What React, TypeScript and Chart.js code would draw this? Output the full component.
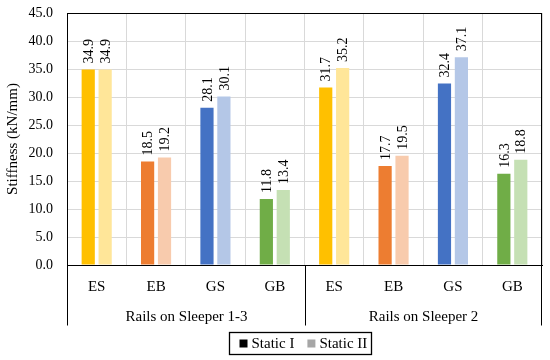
import React, { useEffect, useRef } from 'react';
import { Chart, registerables } from 'chart.js';

Chart.register(...registerables);

const categories = ['ES', 'EB', 'GS', 'GB', 'ES', 'EB', 'GS', 'GB'];
const groups = ['Rails on Sleeper 1-3', 'Rails on Sleeper 2'];
const groupSizes = [4, 4];
const staticI = [34.9, 18.5, 28.1, 11.8, 31.7, 17.7, 32.4, 16.3];
const staticII = [34.9, 19.2, 30.1, 13.4, 35.2, 19.5, 37.1, 18.8];
const seriesNames = ['Static I', 'Static II'];
const darkColors = ['#FFC000', '#ED7D31', '#4472C4', '#70AD47', '#FFC000', '#ED7D31', '#4472C4', '#70AD47'];
const lightColors = ['#FFE699', '#F8CBAD', '#B4C7E7', '#C5E0B4', '#FFE699', '#F8CBAD', '#B4C7E7', '#C5E0B4'];
const legendColors = ['#000000', '#A6A6A6'];
const yMin = 0;
const yMax = 45;
const yStep = 5;

const FONT = "'Liberation Serif', 'Times New Roman', serif";

const frameAndGroupsPlugin = {
  id: 'frameAndGroups',
  afterDatasetsDraw(chart: any) {
    const { ctx } = chart;
    ctx.save();
    ctx.font = `14px ${FONT}`;
    ctx.fillStyle = '#000';
    ctx.textAlign = 'left';
    ctx.textBaseline = 'middle';
    chart.data.datasets.forEach((ds: any, di: number) => {
      const meta = chart.getDatasetMeta(di);
      meta.data.forEach((el: any, i: number) => {
        const v = ds.data[i];
        ctx.save();
        ctx.translate(el.x, el.y - 6);
        ctx.rotate(-Math.PI / 2);
        ctx.fillText(Number(v).toFixed(1), 0, 1);
        ctx.restore();
      });
    });
    ctx.restore();
  },
  afterDraw(chart: any) {
    const { ctx, chartArea } = chart;
    const x = chart.scales.x;
    ctx.save();
    ctx.strokeStyle = '#000';
    ctx.lineWidth = 1;
    const L = Math.round(chartArea.left) + 0.5;
    const R = Math.round(chartArea.right) - 0.5;
    const T = Math.round(chartArea.top) + 0.5;
    const B = Math.round(chartArea.bottom) + 0.5;
    ctx.strokeRect(L, T, R - L, B - T);
    const lineBottom = B + 60;
    const bounds: number[] = [L];
    let idx = 0;
    groupSizes.forEach((n, gi) => {
      idx += n;
      if (gi < groupSizes.length - 1) {
        const b = (x.getPixelForValue(idx - 1) + x.getPixelForValue(idx)) / 2;
        bounds.push(Math.round(b) + 0.5);
      }
    });
    bounds.push(R);
    ctx.beginPath();
    bounds.forEach((bx) => {
      ctx.moveTo(bx, B);
      ctx.lineTo(bx, lineBottom);
    });
    ctx.stroke();
    ctx.font = `15px ${FONT}`;
    ctx.fillStyle = '#000';
    ctx.textAlign = 'center';
    ctx.textBaseline = 'middle';
    groups.forEach((g, gi) => {
      const cx = (bounds[gi] + bounds[gi + 1]) / 2;
      ctx.fillText(g, cx, B + 51.5);
    });

    // legend
    ctx.font = `15px ${FONT}`;
    const widths = seriesNames.map((n) => ctx.measureText(n).width);
    const sq = 8, gapT = 4, gapI = 13, padL = 10, padR = 4;
    const total = padL + sq + gapT + widths[0] + gapI + sq + gapT + widths[1] + padR;
    const cx = (chartArea.left + chartArea.right) / 2 - 5;
    const boxL = Math.round(cx - total / 2) + 0.5;
    const boxT = B + 67;
    const boxH = 22;
    ctx.lineWidth = 1.3;
    ctx.strokeStyle = '#000';
    ctx.strokeRect(boxL, boxT, Math.round(total), boxH);
    let px = boxL + padL;
    const midY = boxT + boxH / 2;
    ctx.textAlign = 'left';
    seriesNames.forEach((n, i) => {
      ctx.fillStyle = legendColors[i];
      ctx.fillRect(px, midY - 4, sq, sq);
      px += sq + gapT;
      ctx.fillStyle = '#000';
      ctx.fillText(n, px, midY + 1);
      px += widths[i] + gapI;
    });
    ctx.restore();
  },
};

export default function App() {
  const ref = useRef<HTMLCanvasElement | null>(null);
  useEffect(() => {
    if (!ref.current) return;
    const chart = new Chart(ref.current, {
      type: 'bar',
      data: {
        labels: categories,
        datasets: [
          {
            label: seriesNames[0],
            data: staticI,
            backgroundColor: darkColors,
            borderWidth: 0,
            categoryPercentage: 0.57,
            barPercentage: 0.78,
          },
          {
            label: seriesNames[1],
            data: staticII,
            backgroundColor: lightColors,
            borderWidth: 0,
            categoryPercentage: 0.57,
            barPercentage: 0.78,
          },
        ],
      },
      options: {
        animation: false,
        responsive: true,
        maintainAspectRatio: false,
        layout: { padding: { top: 0, right: 8, left: 0, bottom: 35 } },
        plugins: {
          tooltip: { enabled: false },
          legend: { display: false },
        },
        scales: {
          x: {
            grid: { display: true, offset: true, color: '#D9D9D9', drawTicks: false },
            border: { display: true, color: '#000' },
            ticks: { font: { family: FONT, size: 15 }, color: '#000', padding: 13.5 },
            afterFit: (scale: any) => {
              scale.height = 60;
            },
          },
          y: {
            min: yMin,
            max: yMax,
            grid: { color: '#D9D9D9', drawTicks: false },
            border: { display: true, color: '#000' },
            ticks: {
              stepSize: yStep,
              font: { family: FONT, size: 14 },
              color: '#000',
              padding: 14,
              callback: (v: any) => Number(v).toFixed(1),
            },
            title: {
              display: true,
              text: 'Stiffness (kN/mm)',
              font: { family: FONT, size: 15 },
              color: '#000',
            },
            afterFit: (scale: any) => {
              scale.width = 67;
              scale.paddingTop = 13;
              scale.paddingBottom = 0;
            },
          },
        },
      },
      plugins: [frameAndGroupsPlugin],
    });
    return () => chart.destroy();
  }, []);
  return (
    <div style={{ position: 'fixed', left: 0, top: 0, width: 550, height: 360, background: '#fff' }}>
      <canvas ref={ref} />
    </div>
  );
}
